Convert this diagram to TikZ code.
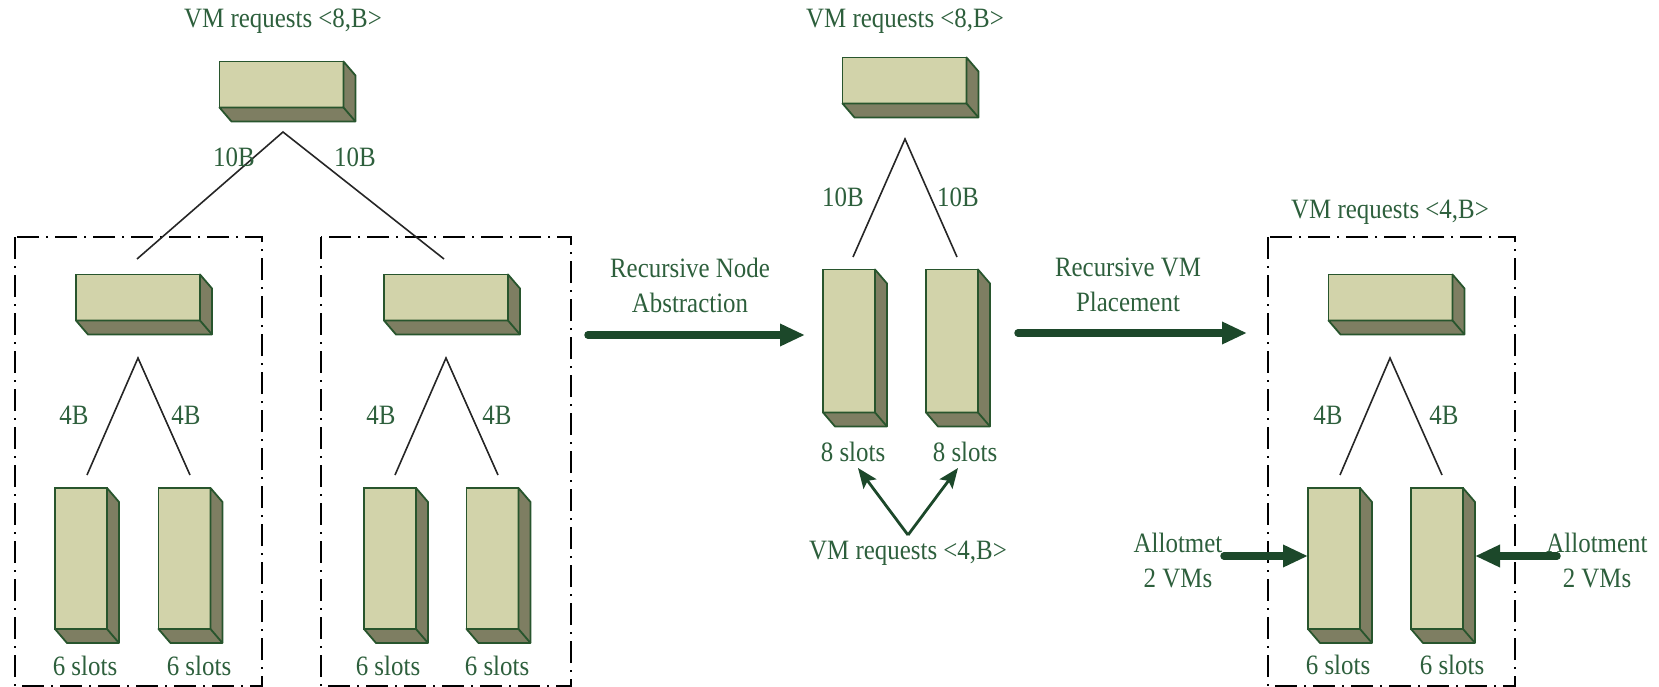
\documentclass[tikz,border=0pt]{standalone}
\usepackage{fontspec}
\setmainfont[FakeStretch=0.89]{Liberation Serif}
\usetikzlibrary{arrows.meta,calc}

\definecolor{txtgreen}{RGB}{45,95,60}
\definecolor{edgegreen}{RGB}{40,85,45}
\definecolor{facefill}{RGB}{210,211,170}
\definecolor{sidefill}{RGB}{126,126,98}
\definecolor{arrowgreen}{RGB}{28,72,42}

% side and bottom faces of a 3-D block whose front face is node #1
\newcommand{\extrude}[1]{%
  \filldraw[fill=sidefill,draw=edgegreen,line width=1.8pt,line join=round]
    (#1.north east) -- ++(12,14) -- ($(#1.south east)+(12,14)$)
    -- ($(#1.south west)+(12,14)$) -- (#1.south west) -- (#1.south east) -- cycle;
  \draw[edgegreen,line width=1.8pt] (#1.south east) -- ++(12,14);
}

\tikzset{
  face/.style={draw=edgegreen, fill=facefill, line width=1.8pt, inner sep=0pt, outer sep=0pt},
  flatbox/.style={face, minimum width=124pt, minimum height=46pt},
  tallbox/.style={face, minimum width=52pt, minimum height=141pt},
  lbl/.style={text=txtgreen, inner sep=0pt, align=center, font=\fontsize{28pt}{35pt}\selectfont},
  link/.style={draw=black!85, line width=1.6pt},
  panel/.style={draw=black, line width=2pt, dash pattern=on 22pt off 7pt on 2pt off 7pt},
  fatarrow/.style={draw=arrowgreen, line width=7.5pt, line cap=round, -{Triangle[length=25pt,width=21pt]}},
  pointer/.style={draw=arrowgreen, line width=2.8pt, -{Stealth[length=20pt,width=16pt,inset=4pt]}},
}

\begin{document}
\begin{tikzpicture}[x=1pt,y=-1pt]
\useasboundingbox (0,0) rectangle (1659,687);

% ---------- dash-dotted groups ----------
\draw[panel] (15,237) rectangle (262,686);
\draw[panel] (321,237) rectangle (571,686);
\draw[panel] (1268,237) rectangle (1515,686);

% ---------- left tree ----------
\node[lbl] (reqA) at (283,21) {VM requests <8,B>};
\node[flatbox] (tl) at (281.5,84.5) {}; \extrude{tl}

\node[flatbox] (la) at (138,297.5) {}; \extrude{la}
\node[flatbox] (lb) at (446,297.5) {}; \extrude{lb}

\node[tallbox] (la1) at (81,558.5) {};  \extrude{la1}
\node[tallbox] (la2) at (184.5,558.5) {}; \extrude{la2}
\node[tallbox] (lb1) at (390,558.5) {}; \extrude{lb1}
\node[tallbox] (lb2) at (492.5,558.5) {}; \extrude{lb2}

\coordinate (tlapex) at (283,132);
\coordinate (tlfa) at (137,259);
\coordinate (tlfb) at (444,259);
\draw[link] (tlfa) -- (tlapex) -- (tlfb);
\node[lbl] (wA1) at (234,157) {10B};
\node[lbl] (wA2) at (355,157) {10B};

\coordinate (laapex) at (138,358);
\coordinate (lafa) at (87,475);
\coordinate (lafb) at (190,475);
\draw[link] (lafa) -- (laapex) -- (lafb);
\node[lbl] (wA3) at (74,415) {4B};
\node[lbl] (wA4) at (186,415) {4B};

\coordinate (lbapex) at (446,358);
\coordinate (lbfa) at (395,475);
\coordinate (lbfb) at (498,475);
\draw[link] (lbfa) -- (lbapex) -- (lbfb);
\node[lbl] (wA5) at (381,415) {4B};
\node[lbl] (wA6) at (497,415) {4B};

\node[lbl] (sA1) at (85,666) {6 slots};
\node[lbl] (sA2) at (199,666) {6 slots};
\node[lbl] (sA3) at (388,666) {6 slots};
\node[lbl] (sA4) at (497,666) {6 slots};

% ---------- first step ----------
\node[lbl] (stepA) at (690,285) {Recursive Node\\Abstraction};
\coordinate (stepAs) at (588,335);
\coordinate (stepAe) at (805,335);
\draw[fatarrow] (stepAs) -- (stepAe);

% ---------- abstracted tree ----------
\node[lbl] (reqB) at (905,21) {VM requests <8,B>};
\node[flatbox] (tm) at (904.5,80.5) {}; \extrude{tm}
\node[tallbox, minimum height=143pt] (m1) at (849,341) {}; \extrude{m1}
\node[tallbox, minimum height=143pt] (m2) at (952,341) {}; \extrude{m2}

\coordinate (tmapex) at (905,139);
\coordinate (tmfa) at (853,257);
\coordinate (tmfb) at (957,257);
\draw[link] (tmfa) -- (tmapex) -- (tmfb);
\node[lbl] (wB1) at (843,197) {10B};
\node[lbl] (wB2) at (958,197) {10B};

\node[lbl] (sB1) at (853,452) {8 slots};
\node[lbl] (sB2) at (965,452) {8 slots};

\node[lbl] (reqC) at (908,553) {VM requests <4,B>};
\coordinate (vtx) at (908,535);
\coordinate (tipa) at (858,468);
\coordinate (tipb) at (958,468);
\draw[pointer] (vtx) -- (tipa);
\draw[pointer] (vtx) -- (tipb);

% ---------- second step ----------
\node[lbl] (stepB) at (1128,285) {Recursive VM\\Placement};
\coordinate (stepBs) at (1018,333);
\coordinate (stepBe) at (1247,333);
\draw[fatarrow] (stepBs) -- (stepBe);

% ---------- placed subtree ----------
\node[lbl] (reqD) at (1390,212) {VM requests <4,B>};
\node[flatbox] (rm) at (1390.5,297.5) {}; \extrude{rm}
\node[tallbox] (r1) at (1334,558.5) {}; \extrude{r1}
\node[tallbox] (r2) at (1437,558.5) {}; \extrude{r2}

\coordinate (rmapex) at (1390,358);
\coordinate (rmfa) at (1340,475);
\coordinate (rmfb) at (1442,475);
\draw[link] (rmfa) -- (rmapex) -- (rmfb);
\node[lbl] (wD1) at (1328,415) {4B};
\node[lbl] (wD2) at (1444,415) {4B};

\node[lbl] (sD1) at (1338,665) {6 slots};
\node[lbl] (sD2) at (1452,665) {6 slots};

\node[lbl] (allotL) at (1178,560) {Allotmet\\2 VMs};
\node[lbl] (allotR) at (1597,560) {Allotment\\2 VMs};
\draw[fatarrow] ([xshift=-84pt,yshift=2.5pt]r1.west) -- ([yshift=2.5pt]r1.west);
\draw[fatarrow] ([xshift=94pt,yshift=2.5pt]r2.east) -- ([xshift=12pt,yshift=2.5pt]r2.east);
\end{tikzpicture}
\end{document}
